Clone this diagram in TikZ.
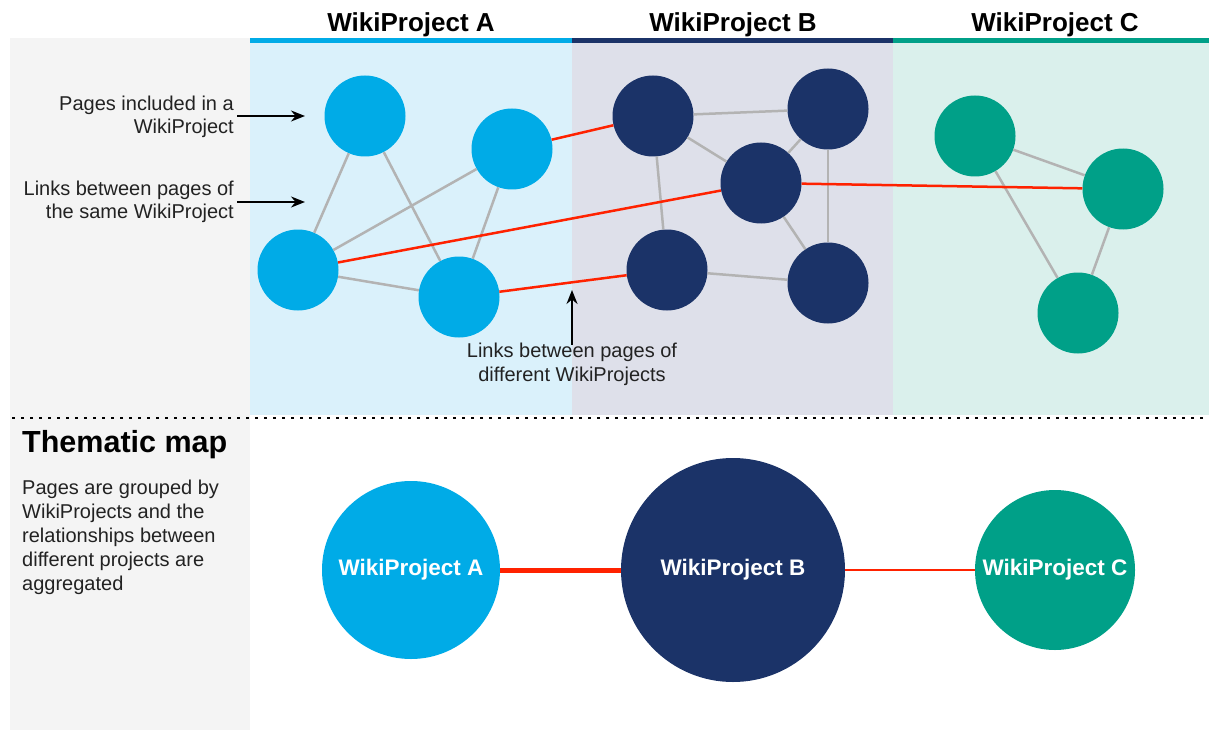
\documentclass[tikz,border=0pt]{standalone}
\usepackage{fontspec}
\setmainfont{Liberation Sans}
\usetikzlibrary{arrows.meta}
\definecolor{cA}{HTML}{00ABE7}
\definecolor{cB}{HTML}{1B3368}
\definecolor{cC}{HTML}{00A088}
\definecolor{bandA}{HTML}{DAF1FB}
\definecolor{bandB}{HTML}{DEE0EA}
\definecolor{bandC}{HTML}{DAF0EC}
\definecolor{panel}{HTML}{F4F4F4}
\definecolor{linkred}{HTML}{FF2200}
\definecolor{linkgray}{HTML}{B3B3B3}
\definecolor{txt}{HTML}{222222}
\begin{document}
\begin{tikzpicture}[x=1pt,y=-1pt,
  page/.style={circle,inner sep=0pt,minimum size=81pt,draw=none},
  pA/.style={page,fill=cA},
  pB/.style={page,fill=cB},
  pC/.style={page,fill=cC},
  intra/.style={draw=linkgray,line width=2.5pt},
  inter/.style={draw=linkred,line width=2.5pt},
  hdr/.style={font=\bfseries\fontsize{26}{30}\selectfont,inner sep=0pt,anchor=base},
  note/.style={font=\fontsize{20}{23.5}\selectfont,text=txt,inner sep=0pt},
  arr/.style={draw=black,line width=1.8pt,-{Stealth[length=14pt,width=11pt]}},
  big/.style={circle,inner sep=0pt,draw=none,text=white,font=\bfseries\fontsize{22.5}{26}\selectfont},
  dotline/.style={draw=black,line width=2.5pt,dash pattern=on 2.5pt off 6.5pt}
]
\useasboundingbox (0,0) rectangle (1209,730);
% backgrounds
\fill[panel] (10,38) rectangle (250,730);
\fill[bandA] (250,43) rectangle (572,415);
\fill[bandB] (572,43) rectangle (893,415);
\fill[bandC] (893,43) rectangle (1209,415);
\fill[cA] (250,38) rectangle (572,43);
\fill[cB] (572,38) rectangle (893,43);
\fill[cC] (893,38) rectangle (1209,43);
\draw[dotline] (12,418) -- (1209,418);
% headers
\node[hdr] (hA) at (411,32) {WikiProject A};
\node[hdr] (hB) at (733,32) {WikiProject B};
\node[hdr] (hC) at (1055,32) {WikiProject C};
% pages
\node[pA] (a1) at (365,116) {};
\node[pA] (a2) at (512,149) {};
\node[pA] (a3) at (298,270) {};
\node[pA] (a4) at (459,297) {};
\node[pB] (b1) at (653,116) {};
\node[pB] (b2) at (828,109) {};
\node[pB] (b3) at (761,183) {};
\node[pB] (b4) at (667,270) {};
\node[pB] (b5) at (828,283) {};
\node[pC] (c1) at (975,136) {};
\node[pC] (c2) at (1123,189) {};
\node[pC] (c3) at (1078,313) {};
% intra links
\draw[intra] (a1) -- (a3);
\draw[intra] (a1) -- (a4);
\draw[intra] (a2) -- (a3);
\draw[intra] (a2) -- (a4);
\draw[intra] (a3) -- (a4);
\draw[intra] (b1) -- (b2);
\draw[intra] (b1) -- (b3);
\draw[intra] (b1) -- (b4);
\draw[intra] (b2) -- (b3);
\draw[intra] (b2) -- (b5);
\draw[intra] (b3) -- (b5);
\draw[intra] (b4) -- (b5);
\draw[intra] (c1) -- (c2);
\draw[intra] (c1) -- (c3);
\draw[intra] (c2) -- (c3);
% inter links
\draw[inter] (a2) -- (b1);
\draw[inter] (a3) -- (b3);
\draw[inter] (a4) -- (b4);
\draw[inter] (b3) -- (c2);
% annotations
\node[note,align=right,anchor=east] (n1) at (234,117) {Pages included in a\\WikiProject};
\coordinate (n1s) at (237,116);
\coordinate (n1t) at (305,116);
\draw[arr] (n1s) -- (n1t);
\node[note,align=right,anchor=east] (n2) at (234,202) {Links between pages of\\the same WikiProject};
\coordinate (n2s) at (237,202);
\coordinate (n2t) at (305,202);
\draw[arr] (n2s) -- (n2t);
\node[note,align=center] (n3) at (572,364.5) {Links between pages of\\different WikiProjects};
\coordinate (n3s) at (572,345);
\coordinate (n3t) at (572,290);
\draw[arr] (n3s) -- (n3t);
% thematic map
\node[inner sep=0pt,anchor=base west,font=\bfseries\fontsize{30.5}{34}\selectfont] (tm) at (22,452) {Thematic map};
\node[note,font=\fontsize{20}{24}\selectfont,align=left,anchor=north west] (desc) at (22,479.5)
  {Pages are grouped by\\WikiProjects and the\\relationships between\\different projects are\\aggregated};
\node[big,fill=cA,minimum size=178pt] (TA) at (411,570) {WikiProject A};
\node[big,fill=cB,minimum size=224pt] (TB) at (733,570) {WikiProject B};
\node[big,fill=cC,minimum size=160pt] (TC) at (1055,570) {WikiProject C};
\draw[draw=linkred,line width=5pt] (TA) -- (TB);
\draw[draw=linkred,line width=2pt] (TB) -- (TC);
\end{tikzpicture}
\end{document}
